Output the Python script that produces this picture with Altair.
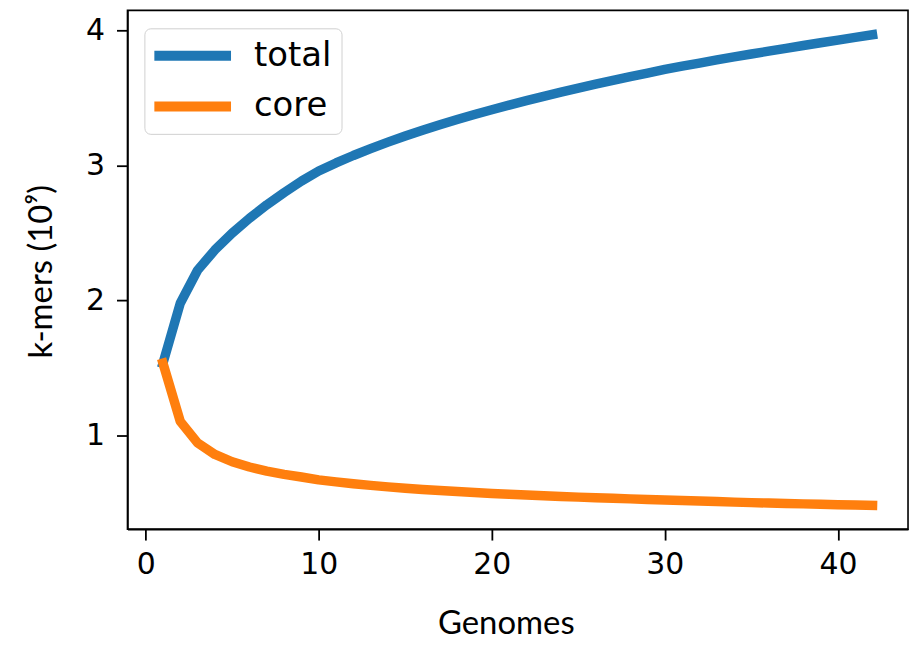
import altair as alt
import pandas as pd

# ---- data ----
genomes = list(range(1, 43))
total = [1.536, 1.98, 2.225, 2.375, 2.50, 2.61, 2.71, 2.80, 2.885, 2.96,
         3.02, 3.075, 3.126, 3.174, 3.219, 3.262, 3.303, 3.342, 3.379, 3.414,
         3.448, 3.481, 3.513, 3.544, 3.574, 3.603, 3.631, 3.659, 3.686, 3.713,
         3.737, 3.760, 3.783, 3.805, 3.827, 3.848, 3.869, 3.890, 3.910, 3.930,
         3.950, 3.970]
core = [1.536, 1.105, 0.946, 0.86, 0.806, 0.767, 0.737, 0.713, 0.693, 0.672,
        0.657, 0.643, 0.631, 0.620, 0.610, 0.601, 0.593, 0.585, 0.578, 0.571,
        0.565, 0.559, 0.554, 0.549, 0.544, 0.539, 0.535, 0.531, 0.527, 0.523,
        0.519, 0.515, 0.511, 0.507, 0.503, 0.500, 0.497, 0.494, 0.491, 0.488,
        0.485, 0.482]
series_names = ["total", "core"]
series_colors = ["#1f77b4", "#ff7f0e"]
x_ticks = [0, 10, 20, 30, 40]
y_ticks = [1, 2, 3, 4]

df = pd.DataFrame({
    "Genomes": genomes + genomes,
    "kmers": total + core,
    "series": ["total"] * len(total) + ["core"] * len(core),
})

base = alt.Chart(df).encode(
    x=alt.X("Genomes:Q",
            scale=alt.Scale(domain=[-1.05, 44.05], nice=False, zero=False),
            axis=alt.Axis(values=x_ticks, title="Genomes", format="d",
                          titleX=380, titleY=95, titleBaseline="middle",
                          titleAlign="center")),
    y=alt.Y("kmers:Q",
            scale=alt.Scale(domain=[0.307, 4.15], nice=False, zero=False),
            axis=alt.Axis(values=y_ticks, title="k-mers (10⁹)", format="d",
                          titleX=-86, titleY=262, titleBaseline="middle",
                          titleAlign="center")),
    color=alt.Color("series:N",
                    scale=alt.Scale(domain=series_names, range=series_colors),
                    legend=alt.Legend(title=None, orient="none", legendX=17, legendY=18,
                                      symbolType="stroke", symbolSize=6084,
                                      symbolStrokeWidth=10, clipHeight=35,
                                      symbolOffset=-6,
                                      rowPadding=16, padding=10,
                                      labelFont="DejaVu Sans", labelFontSize=34,
                                      labelColor="black", labelOffset=18,
                                      strokeColor="#d0d0d0", fillColor="white",
                                      cornerRadius=6)),
)

line_style = dict(strokeWidth=9.5, strokeCap="square", strokeJoin="round")
total_layer = base.transform_filter(alt.datum.series == "total").mark_line(**line_style)
core_layer = base.transform_filter(alt.datum.series == "core").mark_line(**line_style)

chart = alt.layer(total_layer, core_layer).properties(
    width=784, height=521,
    autosize=alt.AutoSizeParams(type="none"),
    padding={"left": 120, "top": 1, "right": 5, "bottom": 113},
).configure_view(
    stroke="black", strokeWidth=1.6
).configure_axis(
    grid=False, domain=True, domainColor="black", domainWidth=1.6,
    ticks=True, tickColor="black", tickWidth=1.8, tickSize=11,
    labelFont="DejaVu Sans", labelFontSize=30, labelColor="black",
    labelPadding=10,
    titleFont="Lato", titleFontSize=33, titleFontWeight="normal", titleColor="black",
).configure_axisY(labelPadding=12)

chart.save("out.html", embed_options={"renderer": "svg", "actions": False})
